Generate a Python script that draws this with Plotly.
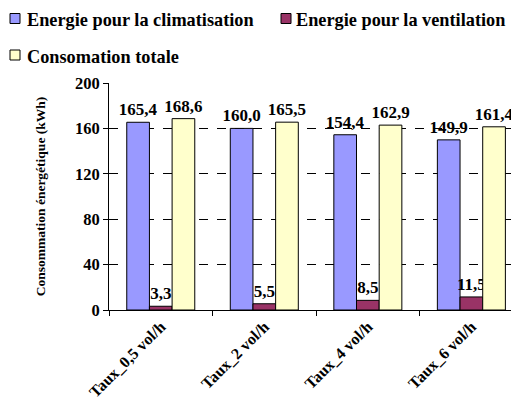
import plotly.graph_objects as go

categories = ["Taux_0,5 vol/h", "Taux_2 vol/h", "Taux_4 vol/h", "Taux_6 vol/h"]
climatisation = [165.4, 160.0, 154.4, 149.9]
ventilation = [3.3, 5.5, 8.5, 11.5]
totale = [168.6, 165.5, 162.9, 161.4]
y_ticks = [0, 40, 80, 120, 160, 200]

series_names = ["Energie pour la climatisation", "Energie pour la ventilation", "Consomation totale"]
colors = ["#9999FF", "#993366", "#FFFFCC"]

FONT = "Liberation Serif, Times New Roman, serif"

# figure geometry (page has an 8px body margin)
W, H = 511, 392
ML, MR, MT, MB = 101, 0, 75, 90
PW, PH = W - ML - MR, H - MT - MB


def px_to_paper(fx, fy):
    return (fx - ML) / PW, (H - MB - fy) / PH


def fmt(v):
    return f"{v:.1f}".replace(".", ",")


fig = go.Figure()
for name, vals, col in zip(series_names, [climatisation, ventilation, totale], colors):
    fig.add_trace(go.Bar(
        x=categories, y=vals, name=name,
        marker=dict(color=col, line=dict(color="black", width=1)),
        text=[fmt(v) for v in vals],
        textposition="outside",
        constraintext="none",
        textfont=dict(family=FONT, size=17, color="black", weight="bold"),
        cliponaxis=False,
        showlegend=False,
    ))

# legend drawn as shapes + text (positions in figure pixels)
legend_pos = [(2, 10.5, 17), (273, 10.5, 286), (2, 47, 17)]  # square left x, center y, text x
shapes = []
annotations = []
for name, col, (sx, cy, tx) in zip(series_names, colors, legend_pos):
    x0, y0 = px_to_paper(sx, cy + 5)
    x1, y1 = px_to_paper(sx + 10, cy - 5)
    shapes.append(dict(type="rect", xref="paper", yref="paper", x0=x0, y0=y0, x1=x1, y1=y1,
                       fillcolor=col, line=dict(color="black", width=1)))
    axp, ayp = px_to_paper(tx, cy + 1.5)
    annotations.append(dict(text=name, xref="paper", yref="paper", x=axp, y=ayp,
                            xanchor="left", yanchor="middle", showarrow=False,
                            font=dict(family=FONT, size=18.3, color="black", weight="bold")))

fig.update_layout(
    width=W, height=H,
    margin=dict(l=ML, r=MR, t=MT, b=MB, autoexpand=False),
    paper_bgcolor="white", plot_bgcolor="white",
    barmode="group", bargap=0.343, bargroupgap=0,
    font=dict(family=FONT, color="black"),
    shapes=shapes, annotations=annotations,
    xaxis=dict(
        range=[-0.5, 3.46], showline=True, linecolor="black", linewidth=1,
        ticks="outside", tickson="boundaries", ticklen=5, tickcolor="black",
        tickangle=-45, showgrid=False,
        tickfont=dict(family=FONT, size=16, color="black", weight="bold"),
    ),
    yaxis=dict(
        range=[0, 200], tickvals=y_ticks, showline=True, linecolor="black", linewidth=1,
        ticks="outside", ticklen=5, tickcolor="black",
        showgrid=True, gridcolor="black", griddash="dash", gridwidth=1,
        zeroline=False,
        tickfont=dict(family=FONT, size=16.5, color="black", weight="bold"),
        title=dict(text="Consommation énergétique (kWh)", standoff=26,
                   font=dict(family=FONT, size=13.5, color="black", weight="bold")),
    ),
)

fig.write_html("out.html")
